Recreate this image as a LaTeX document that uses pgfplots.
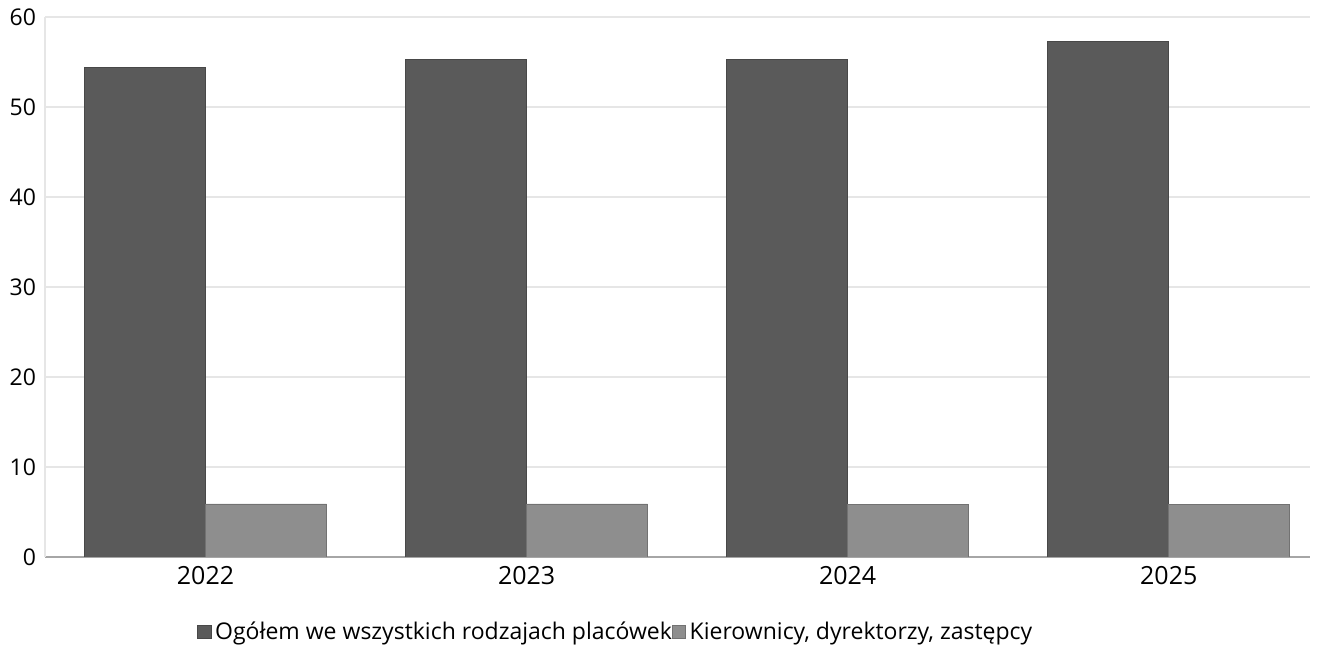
\documentclass[border=0pt]{standalone}
\usepackage{fontspec}
\setmainfont{Open Sans}
\usepackage{pgfplots}
\pgfplotsset{compat=1.18}
\definecolor{darkbar}{HTML}{5A5A5A}
\definecolor{lightbar}{HTML}{8E8E8E}
\definecolor{gridc}{HTML}{E6E6E6}
\begin{document}
\begin{tikzpicture}
\useasboundingbox (0,0) rectangle (670pt,324pt);
\begin{axis}[
  at={(22.5pt,45.5pt)}, anchor=south west,
  scale only axis, width=632.5pt, height=270pt,
  xmin=-0.5, xmax=3.44, ymin=0, ymax=60,
  ytick={0,10,20,30,40,50,60},
  xtick={0,1,2,3}, xticklabels={2022,2023,2024,2025},
  ymajorgrids, grid style={gridc, line width=0.8pt},
  axis x line*=bottom, axis y line*=left,
  x axis line style={draw=gray!70, line width=0.8pt},
  y axis line style={draw=gridc, line width=0.8pt},
  major tick length=0pt,
  /pgf/number format/assume math mode=true,
  xticklabel style={font=\fontsize{12.5}{14}\selectfont, yshift=-1pt},
  yticklabel style={font=\fontsize{11.5}{13}\selectfont, xshift=-1pt},
  ybar, bar width=0.377,
  legend style={at={(0.452,-0.139)}, anchor=center, draw=none, fill=none,
    legend columns=2, font=\fontsize{11.5}{13}\selectfont,
    /tikz/every even column/.append style={column sep=-2pt}},
  legend image code/.code={\fill[#1] (0pt,-3.3pt) rectangle (6.6pt,3.3pt);},
  legend cell align=left,
]
\addplot[fill=darkbar, draw=darkbar!80!black, line width=0.3pt, bar shift=-0.1885]
  coordinates {(0,54.4) (1,55.3) (2,55.3) (3,57.3)};
\addlegendentry{Ogółem we wszystkich rodzajach placówek}
\addplot[fill=lightbar, draw=lightbar!80!black, line width=0.3pt, bar shift=0.1885]
  coordinates {(0,5.9) (1,5.9) (2,5.8) (3,5.8)};
\addlegendentry{Kierownicy, dyrektorzy, zastępcy}
\end{axis}
\end{tikzpicture}
\end{document}
